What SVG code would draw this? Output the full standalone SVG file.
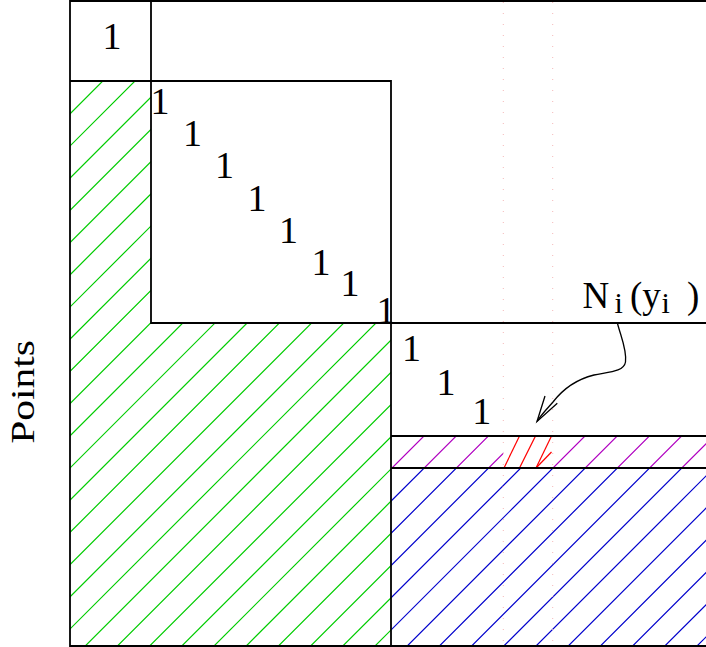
<svg xmlns="http://www.w3.org/2000/svg" xmlns:xlink="http://www.w3.org/1999/xlink" width="706" height="647" viewBox="0 0 706 647">
<style>
.frame{fill:none;stroke:#000;stroke-width:1.8}
.hatch{fill:none;stroke-width:1.2}
.one{font-family:"Liberation Serif","Times New Roman",serif;font-size:38px;fill:#000;text-anchor:middle}
.lbl{font-family:"Liberation Serif","Times New Roman",serif;fill:#000}
.dots{fill:none;stroke:#f4b8b8;stroke-width:1;stroke-dasharray:1 10}
</style>
<defs>
<path id="hatchLines" d="M-516.2 700L183.8 0M-484 700L216 0M-451.8 700L248.2 0M-419.6 700L280.4 0M-387.4 700L312.6 0M-355.2 700L344.8 0M-323 700L377 0M-290.8 700L409.2 0M-258.6 700L441.4 0M-226.4 700L473.6 0M-194.2 700L505.8 0M-162 700L538 0M-129.8 700L570.2 0M-97.6 700L602.4 0M-65.4 700L634.6 0M-33.2 700L666.8 0M-1 700L699 0M31.2 700L731.2 0M63.4 700L763.4 0M95.6 700L795.6 0M127.8 700L827.8 0M160 700L860 0M192.2 700L892.2 0M224.4 700L924.4 0M256.6 700L956.6 0M288.8 700L988.8 0M321 700L1021 0M353.2 700L1053.2 0M385.4 700L1085.4 0M417.6 700L1117.6 0M449.8 700L1149.8 0M482 700L1182 0M514.2 700L1214.2 0M546.4 700L1246.4 0M578.6 700L1278.6 0M610.8 700L1310.8 0M643 700L1343 0"/>
<clipPath id="clipGreen"><path d="M70 81H151V323H391V646H70Z"/></clipPath>
<clipPath id="clipMagenta"><path d="M391 436H503.3V468H391ZM552.7 436H706V468H552.7Z"/></clipPath>
<clipPath id="clipBlue"><rect x="391" y="468" width="315" height="178"/></clipPath>
</defs>
<g id="hatching">
<use xlink:href="#hatchLines" class="hatch" stroke="#00cc00" clip-path="url(#clipGreen)"/>
<use xlink:href="#hatchLines" class="hatch" stroke="#b000c0" clip-path="url(#clipMagenta)"/>
<use xlink:href="#hatchLines" class="hatch" stroke="#0000cc" clip-path="url(#clipBlue)"/>
<g id="red-hatch" stroke="#ff0000" stroke-width="1.2" fill="none">
<line x1="504" y1="468" x2="519.5" y2="436"/>
<line x1="519.5" y1="468" x2="535.5" y2="436"/>
<line x1="536" y1="468" x2="551.5" y2="436"/>
<line x1="536" y1="468" x2="551.5" y2="452"/>
</g>
<line class="dots" x1="503.3" y1="2" x2="503.3" y2="646"/>
<line class="dots" x1="552.7" y1="2" x2="552.7" y2="646"/>
</g>
<g id="frame">
<path class="frame" d="M706 1H70V646H706"/>
<path class="frame" d="M70 81H391V646"/>
<path class="frame" d="M151 1V323H706"/>
<path class="frame" d="M391 436H706M391 468H706"/>
</g>
<g id="ones">
<text class="one" x="112" y="49">1</text>
<text class="one" x="160" y="114">1</text>
<text class="one" x="192.5" y="146">1</text>
<text class="one" x="224.5" y="177.7">1</text>
<text class="one" x="257" y="211">1</text>
<text class="one" x="288.5" y="242.7">1</text>
<text class="one" x="321" y="275">1</text>
<text class="one" x="350" y="296">1</text>
<text class="one" x="386" y="323">1</text>
<text class="one" x="411.5" y="360.7">1</text>
<text class="one" x="446" y="395">1</text>
<text class="one" x="481.7" y="424">1</text>
</g>
<g id="label-N">
<text class="lbl" font-size="37" y="307.5"><tspan x="582.5">N</tspan><tspan x="614.5" y="313" font-size="30">i</tspan><tspan x="630" y="307.5">(y</tspan><tspan x="661.5" y="313" font-size="30">i</tspan><tspan x="687" y="307.5">)</tspan></text>
</g>
<g id="connectors" fill="none" stroke="#000" stroke-width="1.3">
<path d="M617.5 323.5C621 337 627 350 625.5 362C624 372 608 372 594 375C578 379 563 389 553 402C546 410 541 415 537 421.5"/>
<path d="M545 396L537 421.5L557.3 403.3"/>
</g>
<g id="axis-label">
<text class="lbl" font-size="34" text-anchor="middle" transform="translate(33.5 392) rotate(-90) scale(1.22 1)">Points</text>
</g>
</svg>
